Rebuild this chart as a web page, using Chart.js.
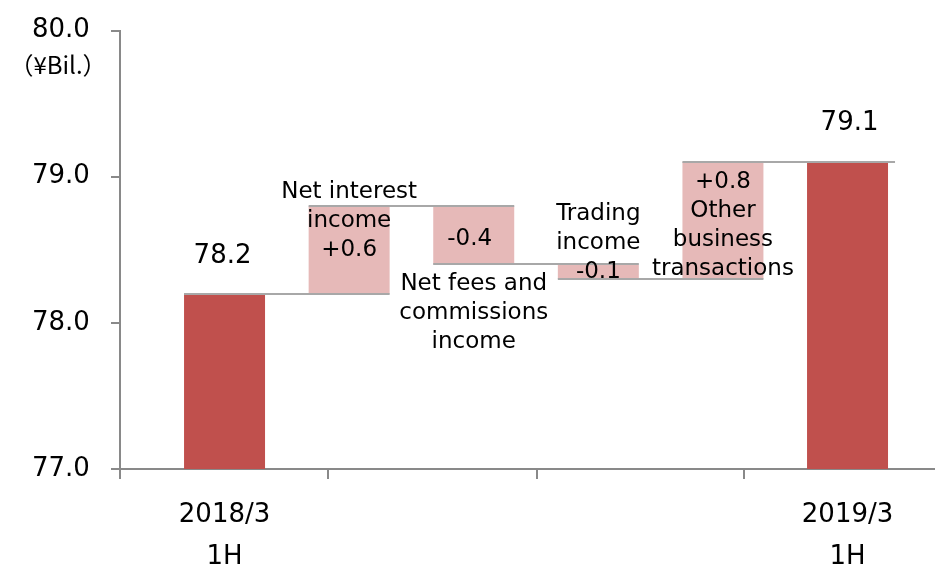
<!DOCTYPE html>
<html>
<head>
<meta charset="utf-8">
<script src="https://cdn.jsdelivr.net/npm/chart.js@4.4.1/dist/chart.umd.min.js"></script>
<style>
    html, body { margin: 0; padding: 0; background: #fff; }
    #wrap { width: 935px; height: 568px; }
</style>
</head>
<body>
<div id="wrap"><canvas id="chart" width="935" height="568"></canvas></div>
<script>
/* Waterfall: 2018/3 1H -> 2019/3 1H (¥Bil.) */

const CATEGORIES = ["2018/3 1H", "Net interest income", "Net fees and commissions income",
                    "Trading income", "Other business transactions", "2019/3 1H"];
const BAR_LOW = [77.0, 78.2, 78.4, 78.3, 78.3, 77.0];
const BAR_HIGH = [78.2, 78.8, 78.8, 78.4, 79.1, 79.1];
const RUNNING = [78.2, 78.8, 78.4, 78.3, 79.1, 79.1];
const VALUE_LABELS = ["78.2", "+0.6", "-0.4", "-0.1", "+0.8", "79.1"];
const Y_TICKS = [77, 78, 79, 80];
const X_LABELS = [["2018/3", "1H"], ["2019/3", "1H"]];
const X_LABEL_AT = [0, 5];
const X_TICK_MARKS = [-0.839, 0.83, 2.51, 4.17];
const UNIT = "（¥Bil.）";

const DARK = "#c0504d";
const LIGHT = "#e6b9b8";
const AXIS = "#898989";
const FONT = "'DejaVu Sans', Verdana, sans-serif";

const BAR_COLORS = [DARK, LIGHT, LIGHT, LIGHT, LIGHT, DARK];

// text blocks drawn next to the bars: anchor value, pixel offset of first line
const NOTES = [
    { bar: 0, lines: [VALUE_LABELS[0]], at: "high", dy: -37, dx: -2, size: 26 },
    { bar: 1, lines: ["Net interest", "income", VALUE_LABELS[1]], at: "high", dy: -14, dx: 0, size: 23 },
    { bar: 2, lines: [VALUE_LABELS[2]], at: "mid", dy: 4, dx: -4, size: 23 },
    { bar: 2, lines: ["Net fees and", "commissions", "income"], at: "low", dy: 20, dx: 0, size: 23 },
    { bar: 3, lines: ["Trading", "income", VALUE_LABELS[3]], at: "high", dy: -50, dx: 0, size: 23 },
    { bar: 4, lines: [VALUE_LABELS[4], "Other", "business", "transactions"], at: "high", dy: 20, dx: 0, size: 23 },
    { bar: 5, lines: [VALUE_LABELS[5]], at: "high", dy: -39, dx: 2, size: 26 },
];

/* ---------- Plugin: connectors, notes, unit ---------- */

const waterfallExtras = {
    id: "waterfallExtras",
    afterDatasetsDraw(chart) {
        const { ctx } = chart;
        const y = chart.scales.y;
        const bars = chart.getDatasetMeta(0).data;
        ctx.save();

        // connector lines from each bar to the next one
        ctx.strokeStyle = "#a8a8a8";
        ctx.lineWidth = 2;
        for (let i = 0; i < bars.length - 1; i++) {
            const a = bars[i], b = bars[i + 1];
            const py = Math.round(y.getPixelForValue(RUNNING[i]));
            ctx.beginPath();
            ctx.moveTo(a.x - a.width / 2, py);
            ctx.lineTo(b.x + b.width / 2 + (i === bars.length - 2 ? 7 : 0), py);
            ctx.stroke();
        }

        // labels
        ctx.fillStyle = "#000";
        ctx.textAlign = "center";
        ctx.textBaseline = "middle";
        NOTES.forEach(n => {
            const bar = bars[n.bar];
            const v = n.at === "high" ? BAR_HIGH[n.bar]
                : n.at === "low" ? BAR_LOW[n.bar]
                : (BAR_HIGH[n.bar] + BAR_LOW[n.bar]) / 2;
            const top = y.getPixelForValue(v) + n.dy;
            ctx.font = `${n.size}px ${FONT}`;
            n.lines.forEach((line, k) => {
                ctx.fillText(line, bar.x + n.dx, top + k * 29);
            });
        });

        // unit under the top tick label
        ctx.font = "24px 'Noto Sans CJK JP', sans-serif";
        ctx.fillText(UNIT, 58, y.getPixelForValue(80) + 34);
        ctx.restore();
    }
};

/* ---------- Chart ---------- */

Chart.defaults.font.family = FONT;
Chart.defaults.color = "#000";

new Chart(document.getElementById("chart"), {
    type: "bar",
    data: {
        datasets: [{
            data: CATEGORIES.map((c, i) => ({ x: i, y: [BAR_LOW[i], BAR_HIGH[i]] })),
            backgroundColor: BAR_COLORS,
            borderWidth: 0,
            categoryPercentage: 1,
            barPercentage: 0.65,
            xAxisID: "x",
            yAxisID: "y",
        }]
    },
    options: {
        responsive: false,
        devicePixelRatio: 1,
        animation: false,
        layout: { padding: { top: 24, left: 32, right: 0, bottom: 0 } },
        plugins: {
            legend: { display: false },
            tooltip: { enabled: false },
        },
        scales: {
            x: {
                type: "linear",
                axis: "x",
                position: "bottom",
                min: -0.839,
                max: 5.702,
                offset: false,
                grid: { drawOnChartArea: false, offset: false, color: AXIS, lineWidth: 2, tickLength: 10 },
                border: { color: AXIS, width: 2 },
                ticks: { display: false },
                afterBuildTicks: axis => { axis.ticks = X_TICK_MARKS.map(v => ({ value: v })); },
            },
            xLabels: {
                type: "linear",
                axis: "x",
                position: "bottom",
                min: -0.839,
                max: 5.702,
                offset: false,
                grid: { display: false, offset: false },
                border: { display: false },
                ticks: {
                    autoSkip: false,
                    maxRotation: 0,
                    padding: 7,
                    font: { size: 26, lineHeight: 1.62 },
                    callback: (v, i) => X_LABELS[i],
                },
                afterBuildTicks: axis => { axis.ticks = X_LABEL_AT.map(v => ({ value: v })); },
                afterFit: axis => { axis.height = 89; },
            },
            y: {
                min: 77,
                max: 80,
                beginAtZero: false,
                grid: { drawOnChartArea: false, color: AXIS, lineWidth: 2, tickLength: 9 },
                border: { color: AXIS, width: 2 },
                ticks: {
                    padding: 15,
                    crossAlign: "far",
                    font: { size: 26 },
                    callback: v => v.toFixed(1),
                },
                afterBuildTicks: axis => { axis.ticks = Y_TICKS.map(v => ({ value: v })); },
                afterFit: axis => { axis.width = 88; },
            }
        }
    },
    plugins: [waterfallExtras]
});
</script>
</body>
</html>
